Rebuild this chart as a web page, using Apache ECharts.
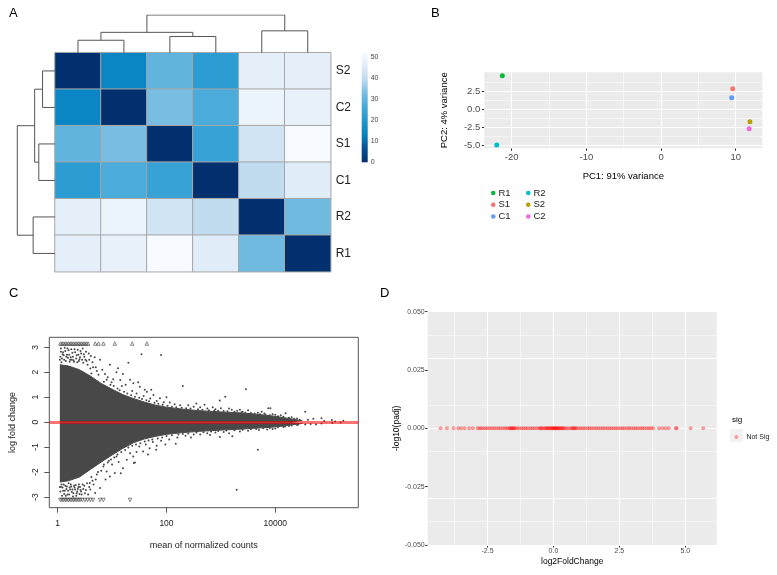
<!DOCTYPE html>
<html>
<head>
<meta charset="utf-8">
<script src="https://cdn.jsdelivr.net/npm/echarts@6.0.0/dist/echarts.min.js"></script>
<style>
  html, body { margin: 0; padding: 0; background: #fff; }
  #chart { width: 777px; height: 575px; }
</style>
</head>
<body>
<div id="chart"></div>
<script>
const FONT = 'Liberation Sans, Arial, sans-serif';

// ---- A: sample distance heatmap ----
const samples = ['S2', 'C2', 'S1', 'C1', 'R2', 'R1'];
const sampleDist = [
  [0, 14, 30, 22, 47, 47],
  [14, 0, 33, 27, 49, 48],
  [30, 33, 0, 24, 43, 52],
  [22, 27, 24, 0, 40, 46],
  [47, 49, 43, 40, 0, 32],
  [47, 48, 52, 46, 32, 0]
];
// hclust style merges: [node a, node b, height], leaves are 0..5, new nodes 6..
const treeMerges = [[0, 1, 0.33], [2, 3, 0.43], [6, 7, 0.54], [4, 5, 0.58], [8, 9, 1.0]];
const heatColors = ['#02306E', '#044F98', '#0683C2', '#1D96CF', '#43A8D9', '#74BBE1', '#BCD8EE', '#DEEBF7', '#F7FBFF'];
const distMax = 52;
const colorbarTicks = [0, 10, 20, 30, 40, 50];

// ---- B: PCA ----
const pcaSamples = ['R1', 'S1', 'C1', 'R2', 'S2', 'C2'];
const pc1 = [-21.26, 9.6, 9.46, -22.0, 11.9, 11.8];
const pc2 = [4.72, 2.92, 1.67, -4.9, -1.67, -2.64];
const pcaColors = ['#00BA38', '#F8766D', '#619CFF', '#00BFC4', '#B79F00', '#F564E3'];
const pc1Ticks = [-20, -10, 0, 10];
const pc1Minor = [-15, -5, 5];
const pc2Ticks = [-5, -2.5, 0, 2.5];
const pc2Minor = [-3.75, -1.25, 1.25, 3.75];

// ---- C: MA plot (x = log10 mean of normalized counts) ----
const maCoreX = [0.04, 0.2, 0.4, 0.6, 0.8, 1.0, 1.2, 1.4, 1.6, 1.8, 2.0, 2.3, 2.6, 3.0, 3.3, 3.6, 3.9, 4.1, 4.3, 4.5];
const maCoreUp = [2.3, 2.25, 2.1, 1.85, 1.55, 1.32, 1.1, 0.94, 0.8, 0.68, 0.6, 0.52, 0.46, 0.41, 0.38, 0.33, 0.26, 0.2, 0.13, 0.05];
const maCoreDown = [-2.4, -2.35, -2.2, -1.9, -1.6, -1.32, -1.05, -0.82, -0.67, -0.57, -0.49, -0.42, -0.37, -0.32, -0.29, -0.25, -0.21, -0.17, -0.11, -0.05];
const maPoints = [
  // upper left, above the dense block
  [0.06, 2.95], [0.1, 2.8], [0.13, 2.98], [0.17, 2.7], [0.2, 2.88], [0.24, 2.6], [0.27, 2.78], [0.31, 2.92],
  [0.34, 2.55], [0.38, 2.7], [0.42, 2.85], [0.45, 2.5], [0.49, 2.62], [0.53, 2.45], [0.57, 2.75], [0.08, 2.55],
  [0.15, 2.45], [0.22, 2.42], [0.29, 2.48], [0.36, 2.4], [0.05, 2.62], [0.11, 2.68], [0.19, 2.58], [0.26, 2.5],
  [0.4, 2.52], [0.47, 2.38], [0.55, 2.3], [0.6, 2.15], [0.64, 2.4], [0.68, 2.6], [0.72, 2.05], [0.62, 1.95],
  [0.07, 2.4], [0.09, 2.72], [0.12, 2.5], [0.14, 2.85], [0.16, 2.62], [0.18, 2.95], [0.21, 2.7], [0.23, 2.5],
  [0.25, 2.92], [0.28, 2.62], [0.3, 2.42], [0.32, 2.8], [0.35, 2.68], [0.37, 2.9], [0.39, 2.45], [0.41, 2.6],
  [0.43, 2.75], [0.46, 2.95], [0.48, 2.72], [0.51, 2.5], [0.52, 2.82], [0.58, 2.5], [0.61, 2.65], [0.65, 2.2],
  [0.06, 2.82], [0.04, 2.5],
  // lower left, below the dense block
  [0.06, -2.6], [0.1, -2.75], [0.14, -2.55], [0.18, -2.9], [0.22, -2.62], [0.26, -2.8], [0.3, -2.55], [0.34, -2.95],
  [0.38, -2.6], [0.42, -2.72], [0.46, -2.5], [0.5, -2.85], [0.54, -2.45], [0.58, -2.6], [0.08, -2.95], [0.16, -2.68],
  [0.24, -2.5], [0.32, -2.7], [0.4, -2.88], [0.05, -2.78], [0.12, -2.88], [0.2, -2.45], [0.28, -2.98], [0.36, -2.78],
  [0.44, -2.9], [0.62, -2.2], [0.66, -2.5], [0.7, -2.3], [0.74, -2.0], [0.78, -2.64], [0.69, -2.84], [0.59, -2.44],
  [0.07, -2.5], [0.09, -2.62], [0.11, -2.5], [0.13, -2.75], [0.15, -2.95], [0.17, -2.58], [0.19, -2.75], [0.21, -2.9],
  [0.23, -2.7], [0.25, -2.58], [0.27, -2.7], [0.29, -2.85], [0.31, -2.62], [0.33, -2.52], [0.35, -2.85], [0.37, -2.68],
  [0.39, -2.5], [0.41, -2.6], [0.43, -2.78], [0.47, -2.68], [0.49, -2.55], [0.52, -2.72], [0.56, -2.9], [0.6, -2.7],
  [0.64, -2.35], [0.04, -2.6],
  // 0.6 .. 1.4
  [0.78, 2.5], [0.96, 2.3], [1.11, 2.16], [1.3, 2.38], [0.87, 1.93], [1.2, 1.93], [1.15, 1.69], [1.39, 1.56],
  [0.82, 2.1], [0.92, 1.8], [1.02, 1.72], [1.08, 2.0], [1.25, 1.5], [1.33, 1.7], [0.7, 2.2], [0.75, 1.9],
  [0.99, 1.6], [1.18, 1.45],
  [0.84, -1.78], [0.96, -2.18], [1.05, -2.04], [0.9, -1.98], [1.08, -1.38], [1.27, -1.51], [1.42, -1.62], [1.39, -1.38],
  [0.8, -1.95], [0.88, -2.3], [1.0, -1.7], [1.12, -1.6], [1.2, -1.85], [1.33, -1.25], [0.72, -2.1], [1.16, -2.05],
  [0.94, -1.55],
  // 1.4 .. 2.3
  [1.51, 1.42], [1.64, 1.22], [1.37, 1.25], [1.76, 1.09], [1.88, 0.96], [2.06, 0.79], [1.54, 2.72], [1.9, 2.69],
  [1.45, 1.15], [1.58, 1.05], [1.7, 0.95], [1.82, 0.85], [1.95, 0.8], [2.15, 0.72], [2.25, 0.68], [1.6, 1.3],
  [1.48, 1.6], [1.72, 1.3], [2.0, 1.0], [2.3, 1.45],
  [1.57, -1.18], [1.69, -1.05], [1.82, -0.95], [1.81, -1.11], [2.17, -0.87], [1.4, -1.64], [1.5, -0.98], [1.62, -0.9],
  [1.75, -0.8], [1.9, -0.75], [2.05, -0.7], [2.2, -0.62], [1.45, -1.2], [1.66, -1.3], [1.98, -0.9],
  // 2.3 .. 3.6
  [2.4, 0.68], [2.5, 0.62], [2.62, 0.6], [2.75, 0.55], [2.9, 0.52], [2.98, 0.87], [3.08, 1.02], [3.2, 0.5],
  [3.35, 0.5], [3.46, 1.32], [2.55, 0.75], [2.85, 0.6], [3.0, 0.56], [3.15, 0.55], [3.3, 0.46], [3.5, 0.48],
  [2.7, 0.7], [3.4, 0.42],
  [2.35, -0.55], [2.5, -0.5], [2.62, -0.5], [2.75, -0.45], [2.98, -0.6], [3.21, -0.57], [3.29, -2.71], [2.9, -0.42],
  [3.05, -0.4], [3.35, -0.38], [3.5, -0.35], [2.45, -0.62], [2.8, -0.52], [3.15, -0.45],
  // 3.6 .. 5.3
  [3.68, 0.38], [3.8, 0.35], [3.91, 0.56], [4.0, 0.3], [4.1, 0.28], [4.19, 0.36], [4.3, 0.2], [4.4, 0.15],
  [4.55, 0.42], [4.6, 0.1], [4.7, 0.14], [4.85, 0.16], [4.9, 0.05], [5.04, 0.09], [5.1, 0.03], [5.25, 0.06],
  [3.75, 0.42], [3.87, 0.56], [3.95, 0.32],
  [3.68, -1.11], [3.7, -0.32], [3.85, -0.3], [4.0, -0.26], [4.15, -0.2], [4.25, -0.16], [4.4, -0.12], [4.55, -0.1],
  [4.65, -0.08], [4.75, -0.1], [4.85, -0.06], [5.05, -0.04], [5.2, -0.02], [3.95, -0.28],
  // ragged upper edge of the dense cloud
  [0.85, 1.62], [0.9, 1.7], [0.97, 1.5], [1.03, 1.45], [1.1, 1.35], [1.14, 1.28], [1.22, 1.22], [1.28, 1.15],
  [1.35, 1.08], [1.42, 1.02], [1.5, 0.98], [1.55, 0.93], [1.63, 0.88], [1.68, 0.84], [1.78, 0.78], [1.85, 0.74],
  [1.93, 0.7], [2.02, 0.66], [2.1, 0.62], [2.18, 0.6], [2.28, 0.58], [2.36, 0.56], [2.44, 0.55], [2.58, 0.52],
  [2.66, 0.5], [2.78, 0.48], [2.88, 0.47], [2.95, 0.46], [3.05, 0.45], [3.12, 0.44], [3.25, 0.42], [3.38, 0.4],
  [3.45, 0.38], [3.55, 0.37], [3.62, 0.35], [3.72, 0.32], [3.82, 0.3], [3.9, 0.28], [4.05, 0.24], [4.15, 0.22],
  [4.25, 0.18], [4.35, 0.14], [4.45, 0.1],
  // ragged lower edge of the dense cloud
  [0.85, -1.7], [0.92, -1.62], [0.98, -1.5], [1.04, -1.42], [1.1, -1.3], [1.17, -1.2], [1.24, -1.12], [1.3, -1.02],
  [1.37, -0.95], [1.44, -0.9], [1.52, -0.85], [1.6, -0.78], [1.67, -0.74], [1.74, -0.7], [1.84, -0.66], [1.92, -0.62],
  [2.0, -0.56], [2.1, -0.53], [2.22, -0.5], [2.3, -0.48], [2.4, -0.46], [2.55, -0.42], [2.68, -0.41], [2.82, -0.38],
  [2.95, -0.36], [3.1, -0.34], [3.25, -0.33], [3.4, -0.31], [3.55, -0.29], [3.65, -0.28], [3.78, -0.25], [3.9, -0.24],
  [4.05, -0.21], [4.18, -0.18], [4.3, -0.14], [4.42, -0.1]
];
// points beyond the y limits, drawn as triangles at the edge
const maClipUpX = [0.05, 0.08, 0.11, 0.14, 0.17, 0.2, 0.23, 0.26, 0.29, 0.32, 0.35, 0.38, 0.41, 0.44, 0.47, 0.5, 0.53, 0.56, 0.69, 0.75, 0.84, 1.05, 1.37, 1.64];
const maClipDownX = [0.05, 0.08, 0.11, 0.14, 0.17, 0.2, 0.23, 0.26, 0.29, 0.32, 0.35, 0.38, 0.41, 0.45, 0.5, 0.55, 0.6, 0.65, 0.78, 0.84, 1.33];
const maTicksX = [0, 2, 4];
const maTicksY = [-3, -2, -1, 0, 1, 2, 3];

// ---- D: volcano plot ----
const volX = [
  -4.28, -4.04, -3.79, -3.61, -3.5, -3.37, -3.2, -3.06,
  -2.88, -2.8, -2.74, -2.66, -2.57, -2.5, -2.41, -2.33, -2.25, -2.16, -2.08, -2.0, -1.91, -1.83, -1.76,
  -1.68, -1.64, -1.6, -1.57, -1.53, -1.49, -1.45, -1.38, -1.3, -1.21, -1.13, -1.05, -0.97, -0.88, -0.8,
  -0.72, -0.63, -0.55, -0.5, -0.46, -0.42, -0.35, -0.3, -0.26, -0.22, -0.18, -0.14, -0.1, -0.06, -0.03,
  0.0, 0.03, 0.06, 0.09, 0.12, 0.15, 0.19, 0.22, 0.26, 0.3, 0.34, 0.38, 0.43, 0.5, 0.58, 0.66, 0.71,
  0.75, 0.79, 0.83, 0.88, 0.96, 1.04, 1.12, 1.2, 1.29, 1.37, 1.45, 1.54, 1.62, 1.7, 1.79, 1.87, 1.95,
  2.04, 2.12, 2.2, 2.29, 2.37, 2.45, 2.54, 2.62, 2.7, 2.79, 2.87, 2.95, 3.04, 3.12, 3.2, 3.29, 3.37,
  3.45, 3.54, 3.62, 3.7, 3.78,
  4.0, 4.13, 4.25, 4.37, 4.64, 4.67, 5.2, 5.68
];
const volTicksX = [-2.5, 0, 2.5, 5];
const volMinorX = [-3.75, -1.25, 1.25, 3.75];
const volTicksY = [-0.05, -0.025, 0, 0.025, 0.05];
const volMinorY = [-0.0375, -0.0125, 0.0125, 0.0375];

// dendrogram segments from the merge table
function dendroSegments(merges, n, swap) {
  const pos = [], hgt = [];
  for (let i = 0; i < n; i++) { pos.push(i + 0.5); hgt.push(0); }
  const segs = [];
  merges.forEach(([a, b, h]) => {
    let pts = [[pos[a], hgt[a]], [pos[a], h], [pos[b], h], [pos[b], hgt[b]]];
    if (swap) pts = pts.map(p => [p[1], p[0]]);
    segs.push({ coords: pts });
    pos.push((pos[a] + pos[b]) / 2);
    hgt.push(h);
  });
  return segs;
}

const heatData = [];
sampleDist.forEach((row, r) => row.forEach((v, c) => heatData.push([c, r, v])));

// ggplot style panel grid lines, drawn under the points
function ggGrid(idx, xMajor, xMinor, yMajor, yMinor) {
  const major = { color: '#FFFFFF', width: 1, type: 'solid' };
  const minor = { color: '#FFFFFF', width: 0.5, type: 'solid' };
  const data = [].concat(
    xMinor.map(v => ({ xAxis: v, lineStyle: minor })),
    yMinor.map(v => ({ yAxis: v, lineStyle: minor })),
    xMajor.map(v => ({ xAxis: v, lineStyle: major })),
    yMajor.map(v => ({ yAxis: v, lineStyle: major }))
  );
  return {
    type: 'line', xAxisIndex: idx, yAxisIndex: idx, data: [], z: 1, silent: true,
    markLine: { z: 1, silent: true, symbol: 'none', label: { show: false }, animation: false, data }
  };
}

function valAxis(gridIndex, min, max, ticks, o) {
  return {
    type: 'value', gridIndex, min, max,
    axisLine: { show: false, onZero: false },
    splitLine: { show: false },
    axisTick: { show: true, customValues: ticks, inside: false, length: o.tickLen,
      lineStyle: { color: o.tickColor, width: 1 } },
    axisLabel: { customValues: ticks, formatter: o.fmt, fontFamily: FONT, fontSize: o.fontSize,
      color: o.labelColor, margin: o.margin, rotate: o.rotate || 0 },
    name: o.name, nameLocation: 'middle', nameGap: o.nameGap,
    nameTextStyle: { fontFamily: FONT, fontSize: o.nameSize, color: o.nameColor || '#000' }
  };
}
function hiddenAxis(gridIndex, min, max, inverse) {
  return { type: 'value', gridIndex, min, max, inverse: !!inverse, show: false,
    axisLine: { onZero: false }, splitLine: { show: false } };
}

const chart = echarts.init(document.getElementById('chart'), null, { renderer: 'canvas' });

const gg = { tickLen: 2.5, tickColor: '#333', labelColor: '#4D4D4D' };
const legendText = { fontFamily: FONT, fontSize: 9.5, lineHeight: 11.8, color: '#222', padding: [0, 0, 0, -2] };

const option = {
  animation: false,
  backgroundColor: '#FFFFFF',
  textStyle: { fontFamily: FONT },
  grid: [
    { left: 55, top: 52.7, width: 275.7, height: 219, outerBoundsMode: 'none' },
    { left: 55, top: 15, width: 275.7, height: 37.7, outerBoundsMode: 'none' },
    { left: 17.3, top: 52.7, width: 37.7, height: 219, outerBoundsMode: 'none' },
    { left: 361.7, top: 53, width: 6, height: 109.3, outerBoundsMode: 'none', show: true, borderWidth: 0,
      backgroundColor: new echarts.graphic.LinearGradient(0, 1, 0, 0,
        heatColors.map((c, i) => ({ offset: i / (heatColors.length - 1), color: c }))) },
    { left: 484.3, top: 72.3, width: 278, height: 76, outerBoundsMode: 'none', show: true, borderWidth: 0, backgroundColor: '#EBEBEB' },
    { left: 49.3, top: 337.3, width: 309, height: 170.4, outerBoundsMode: 'none', show: true, borderWidth: 1, borderColor: '#555', backgroundColor: 'transparent' },
    { left: 427.7, top: 311.7, width: 289, height: 233.3, outerBoundsMode: 'none', show: true, borderWidth: 0, backgroundColor: '#EBEBEB' }
  ],
  xAxis: [
    { type: 'category', gridIndex: 0, data: samples, show: false },
    hiddenAxis(1, 0, 6),
    hiddenAxis(2, 0, 1, true),
    hiddenAxis(3, 0, 1),
    valAxis(4, -23.67, 13.56, pc1Ticks, Object.assign({ fmt: v => String(v), fontSize: 9.5, margin: 4,
      name: 'PC1: 91% variance', nameGap: 23, nameSize: 9.5 }, gg)),
    valAxis(5, -0.154, 5.526, maTicksX, { fmt: v => String(Math.pow(10, v)), fontSize: 8.5, margin: 11,
      tickLen: 5, tickColor: '#555', labelColor: '#222', name: 'mean of normalized counts', nameGap: 33, nameSize: 9, nameColor: '#222' }),
    valAxis(6, -4.77, 6.19, volTicksX, Object.assign({ fmt: v => v.toFixed(1), fontSize: 7, margin: 3,
      name: 'log2FoldChange', nameGap: 12, nameSize: 8.5 }, gg))
  ],
  yAxis: [
    { type: 'category', gridIndex: 0, data: samples, inverse: true, position: 'right',
      axisLine: { show: false }, axisTick: { show: false },
      axisLabel: { fontFamily: FONT, fontSize: 12, color: '#222', margin: 5 } },
    hiddenAxis(1, 0, 1),
    hiddenAxis(2, 0, 6, true),
    { type: 'value', gridIndex: 3, min: 0, max: distMax, position: 'right',
      axisLine: { show: false, onZero: false }, axisTick: { show: false }, splitLine: { show: false },
      axisLabel: { customValues: colorbarTicks, fontFamily: FONT, fontSize: 7, color: '#444', margin: 3 } },
    valAxis(4, -5.36, 5.19, pc2Ticks, Object.assign({ fmt: v => v.toFixed(1), fontSize: 9.5, margin: 4,
      name: 'PC2: 4% variance', nameGap: 35, nameSize: 9.5 }, gg)),
    valAxis(5, -3.43, 3.4, maTicksY, { fmt: v => String(v), fontSize: 8.5, margin: 9, rotate: 90,
      tickLen: 5, tickColor: '#555', labelColor: '#222', name: 'log fold change', nameGap: 32, nameSize: 9, nameColor: '#222' }),
    valAxis(6, -0.05, 0.05, volTicksY, Object.assign({ fmt: v => v.toFixed(3), fontSize: 7, margin: 3,
      name: '-log10(padj)', nameGap: 27, nameSize: 8.5 }, gg))
  ],
  visualMap: {
    type: 'continuous', show: false, seriesIndex: 0, min: 0, max: distMax, dimension: 2,
    inRange: { color: heatColors }
  },
  legend: [
    { data: pcaSamples.slice(0, 3), orient: 'vertical', left: 491, top: 187, padding: 0, icon: 'circle',
      itemWidth: 4.5, itemHeight: 4.5, itemGap: 0, selectedMode: false, textStyle: legendText },
    { data: pcaSamples.slice(3), orient: 'vertical', left: 526, top: 187, padding: 0, icon: 'circle',
      itemWidth: 4.5, itemHeight: 4.5, itemGap: 0, selectedMode: false, textStyle: legendText },
    { data: ['Not Sig'], orient: 'vertical', left: 734.4, top: 433.5, padding: 0, icon: 'circle',
      itemWidth: 4, itemHeight: 4, selectedMode: false,
      textStyle: { fontFamily: FONT, fontSize: 7, color: '#222', padding: [0, 0, 0, 3] } }
  ],
  graphic: [
    { type: 'text', left: 9, top: 7, style: { text: 'A', font: '13px ' + FONT, fill: '#000' } },
    { type: 'text', left: 431, top: 7, style: { text: 'B', font: '13px ' + FONT, fill: '#000' } },
    { type: 'text', left: 9, top: 287, style: { text: 'C', font: '13px ' + FONT, fill: '#000' } },
    { type: 'text', left: 380, top: 287, style: { text: 'D', font: '13px ' + FONT, fill: '#000' } },
    { type: 'text', left: 732, top: 416, style: { text: 'sig', font: '8px ' + FONT, fill: '#000' } },
    { type: 'rect', left: 730, top: 429, shape: { width: 13, height: 13 }, style: { fill: '#F2F2F2' }, z: -1 }
  ],
  series: [
    { type: 'heatmap', xAxisIndex: 0, yAxisIndex: 0, data: heatData, silent: true,
      itemStyle: { borderColor: '#A6A6A6', borderWidth: 1 } },
    { type: 'lines', coordinateSystem: 'cartesian2d', xAxisIndex: 1, yAxisIndex: 1, polyline: true, silent: true,
      lineStyle: { color: '#555', width: 1, opacity: 1 }, data: dendroSegments(treeMerges, 6, false) },
    { type: 'lines', coordinateSystem: 'cartesian2d', xAxisIndex: 2, yAxisIndex: 2, polyline: true, silent: true,
      lineStyle: { color: '#555', width: 1, opacity: 1 }, data: dendroSegments(treeMerges, 6, true) },
    { type: 'scatter', xAxisIndex: 3, yAxisIndex: 3, data: [], silent: true },
    ggGrid(4, pc1Ticks, pc1Minor, pc2Ticks, pc2Minor),
    ...pcaSamples.map((s, i) => ({
      type: 'scatter', name: s, xAxisIndex: 4, yAxisIndex: 4, z: 3, symbolSize: 5,
      itemStyle: { color: pcaColors[i], opacity: 1 }, data: [[pc1[i], pc2[i]]]
    })),
    { type: 'line', xAxisIndex: 5, yAxisIndex: 5, symbol: 'none', silent: true,
      lineStyle: { width: 1, color: '#484848' }, areaStyle: { color: '#484848', opacity: 1 },
      data: maCoreX.map((x, i) => [x, maCoreUp[i]]) },
    { type: 'line', xAxisIndex: 5, yAxisIndex: 5, symbol: 'none', silent: true,
      lineStyle: { width: 1, color: '#484848' }, areaStyle: { color: '#484848', opacity: 1 },
      data: maCoreX.map((x, i) => [x, maCoreDown[i]]) },
    { type: 'scatter', xAxisIndex: 5, yAxisIndex: 5, symbolSize: 2, silent: true,
      itemStyle: { color: '#484848', opacity: 1 }, data: maPoints },
    { type: 'scatter', xAxisIndex: 5, yAxisIndex: 5, symbol: 'triangle', symbolSize: 3.5, silent: true,
      itemStyle: { color: 'transparent', borderColor: '#444', borderWidth: 0.8 },
      data: maClipUpX.map(x => [x, 3.15]) },
    { type: 'scatter', xAxisIndex: 5, yAxisIndex: 5, symbol: 'triangle', symbolRotate: 180, symbolSize: 3.5, silent: true,
      itemStyle: { color: 'transparent', borderColor: '#444', borderWidth: 0.8 },
      data: maClipDownX.map(x => [x, -3.12]) },
    { type: 'line', xAxisIndex: 5, yAxisIndex: 5, data: [], z: 10, silent: true,
      markLine: { silent: true, symbol: 'none', label: { show: false }, animation: false,
        lineStyle: { color: 'rgba(255,0,0,0.55)', width: 3, type: 'solid' }, data: [{ yAxis: 0 }] } },
    ggGrid(6, volTicksX, volMinorX, volTicksY, volMinorY),
    { type: 'scatter', name: 'Not Sig', xAxisIndex: 6, yAxisIndex: 6, z: 3, symbolSize: 4, silent: true,
      itemStyle: { color: 'rgba(255,0,0,0.45)' }, data: volX.map(x => [x, 0]) }
  ]
};

chart.setOption(option);
window.addEventListener('resize', () => chart.resize());
</script>
</body>
</html>
